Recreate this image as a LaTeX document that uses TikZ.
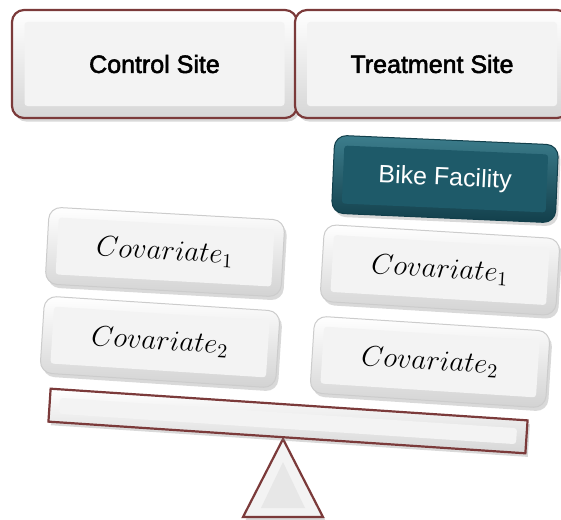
\documentclass[tikz,border=0pt]{standalone}
\usepackage[no-math]{fontspec}
\setmainfont{Liberation Sans}
\newfontfamily\headfont[FakeBold=2.2]{Liberation Sans}
\usepackage{amsmath}
\usetikzlibrary{shadows}
\definecolor{rim}{HTML}{7B3A3A}
\definecolor{bike}{HTML}{1E5A69}
\definecolor{bikelight}{HTML}{3C7D8C}
\definecolor{bikedark}{HTML}{123F4B}
\definecolor{face}{HTML}{F3F3F3}
\definecolor{edge}{HTML}{D6D6D6}

\tikzset{
  softshadow/.style={drop shadow={opacity=0.3,shadow xshift=1.2pt,shadow yshift=-1.8pt}},
  siterim/.style={draw=rim,line width=1.1pt,rounded corners=6pt,top color=white,bottom color=edge,softshadow},
  padrim/.style={draw=gray!40,line width=0.5pt,rounded corners=6pt,top color=white,bottom color=gray!35,softshadow},
  bikerim/.style={draw=bikedark,line width=0.5pt,rounded corners=6pt,top color=bikelight,bottom color=bikedark,softshadow},
  padface/.style={fill=face,rounded corners=1.5pt,inner sep=0pt},
  sitelabel/.style={font=\headfont\fontsize{12.5}{14}\selectfont},
  covlabel/.style={font=\fontsize{14.5}{16}\selectfont}
}

\begin{document}
\begin{tikzpicture}[x=0.5pt,y=-0.5pt]
  \useasboundingbox (0,0) rectangle (561,519);

  % Sites
  \node[siterim,minimum width=142.5pt,minimum height=54pt] (control) at (154.5,64) {};
  \node[padface,minimum width=130pt,minimum height=42pt,sitelabel] at (control) {Control Site};
  \node[siterim,minimum width=137pt,minimum height=54pt] (treatment) at (432,64) {};
  \node[padface,minimum width=125pt,minimum height=42pt,sitelabel] at (treatment) {Treatment Site};

  % Beam and fulcrum
  \coordinate (apex) at (283,439);
  \coordinate (footl) at (243,517);
  \coordinate (footr) at (323,517);
  \draw[rim,line width=1.1pt,fill=face,softshadow] (apex) -- (footr) -- (footl) -- cycle;
  \fill[edge!60] (283,462) -- (305,508) -- (261,508) -- cycle;
  \node[draw=rim,line width=1.1pt,top color=white,bottom color=edge,rotate=-3.8,
        minimum width=239pt,minimum height=16.5pt,softshadow] (beam) at (288,421) {};
  \node[padface,rotate=-3.8,minimum width=229pt,minimum height=8pt] at (beam) {};

  % Bike facility
  \node[bikerim,rotate=-2.5,minimum width=112pt,minimum height=39pt] (bikefac) at (445,179) {};
  \node[padface,fill=bike,rotate=-2.5,minimum width=102pt,minimum height=29pt,
        text=white,font=\fontsize{12.5}{14}\selectfont] at (bikefac) {Bike Facility};

  % Covariates
  \foreach \n/\x/\y/\a/\k in {covl1/165/252/-3.2/1, covl2/160/342/-3.7/2,
                               covr1/440/270/-3.5/1, covr2/430/362/-3.7/2} {
    \node[padrim,rotate=\a,minimum width=118pt,minimum height=38.5pt] (\n) at (\x,\y) {};
    \node[padface,rotate=\a,minimum width=108pt,minimum height=28.5pt,covlabel] at (\n) {$Covariate_{\k}$};
  }
\end{tikzpicture}
\end{document}
